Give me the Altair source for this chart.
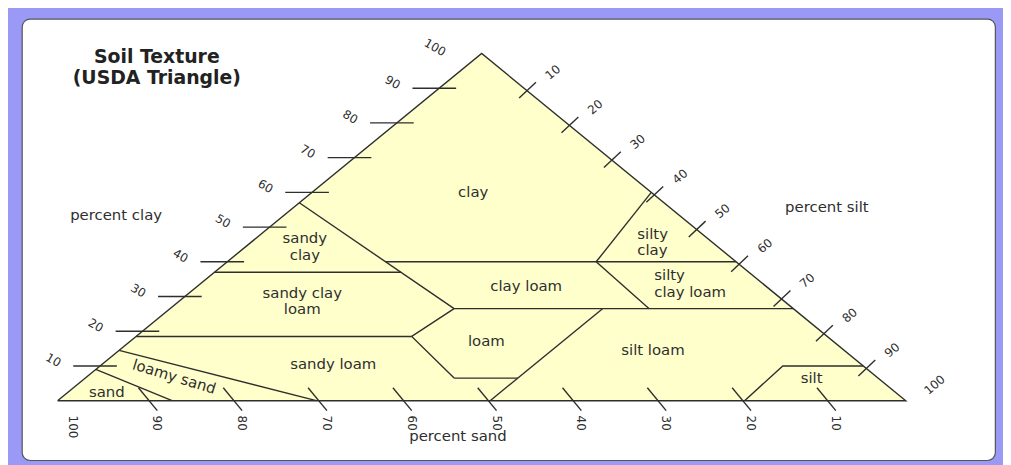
import altair as alt
import pandas as pd

# ---------------- values (percent) ----------------
# triangle outline, as clay % / silt % of each corner
outline_clay = [0, 0, 100, 0]
outline_silt = [0, 100, 0, 0]

# texture-class boundary polylines: clay % and silt % of each vertex
boundary_names = ["sandy clay edge", "sandy clay base", "clay loam top", "silty clay edge",
                  "silty clay loam edge", "clay loam base", "loam edge", "sandy clay loam base",
                  "loam base", "silt loam edge", "silt edge", "loamy sand edge", "sand edge"]
boundary_clay = [[57, 26.5], [37, 37], [40, 40], [60, 40], [40, 26.5], [26.5, 26.5],
                 [26.5, 18.5, 6.5], [18.5, 18.5], [6.5, 6.5], [26.5, 0], [0, 10, 10],
                 [14.5, 0], [9, 0]]
boundary_silt = [[0, 33.5], [0, 22], [18.7, 60], [40, 43.5], [43.5, 56.5], [33.5, 73.5],
                 [33.5, 32.5, 43.5], [0, 32.5], [43.5, 51], [51, 51], [81, 80.5, 90],
                 [0, 30.5], [0, 13.5]]

# class names and the composition where each name sits
one_line_labels = ["clay", "clay loam", "loam", "silt loam", "sandy loam", "sand", "silt"]
one_line_clay = [60, 33.1, 17.1, 14.6, 10.6, 2.6, 6.6]
one_line_silt = [19, 38.7, 42, 62.9, 27.2, 4.5, 85.6]

two_line_labels = ["sandy\nclay", "sandy clay\nloam"]
two_line_clay = [44.3, 28.7]
two_line_silt = [7, 14.5]

silty_labels = ["silty\nclay", "silty\nclay loam"]
silty_clay = [45.7, 33.7]
silty_silt = [45.5, 53.5]

slanted_labels = ["loamy sand"]
slanted_clay = [6.9]
slanted_silt = [10.3]

tick_values = [10, 20, 30, 40, 50, 60, 70, 80, 90]
label_values = [10, 20, 30, 40, 50, 60, 70, 80, 90, 100]

axis_titles = ["percent clay", "percent silt", "percent sand"]
axis_title_x = [6.9, 90.7, 47.2]
axis_title_y = [53.4, 55.7, -10.3]

chart_title = ["Soil Texture\n(USDA Triangle)"]
chart_title_x = [11.7]
chart_title_y = [96.1]

# ---------------- ternary -> plane ----------------
def tx(clay, silt):
    return silt + clay / 2.0


def label_frame(texts, clay, silt):
    return pd.DataFrame({"x": [tx(c, s) for c, s in zip(clay, silt)], "y": clay, "t": texts})


outline_df = pd.DataFrame({
    "x": [tx(c, s) for c, s in zip(outline_clay, outline_silt)],
    "y": outline_clay,
    "i": list(range(len(outline_clay))),
})
fill_df = outline_df.iloc[:3].copy()
fill_df["base"] = 0

rows = []
for name, cl, sl in zip(boundary_names, boundary_clay, boundary_silt):
    for i, (c, s) in enumerate(zip(cl, sl)):
        rows.append({"name": name, "i": i, "x": tx(c, s), "y": c})
bound_df = pd.DataFrame(rows)

clay_ticks = pd.DataFrame({"x": [v / 2.0 for v in tick_values], "y": tick_values})
silt_ticks = pd.DataFrame({"x": [50 + v / 2.0 for v in tick_values], "y": [100 - v for v in tick_values]})
sand_ticks = pd.DataFrame({"x": [100 - v for v in tick_values], "y": [0] * len(tick_values)})

clay_lab = pd.DataFrame({"x": [v / 2.0 for v in label_values], "y": label_values,
                         "t": [str(v) for v in label_values]})
silt_lab = pd.DataFrame({"x": [50 + v / 2.0 for v in label_values], "y": [100 - v for v in label_values],
                         "t": [str(v) for v in label_values]})
sand_lab = pd.DataFrame({"x": [100 - v for v in label_values], "y": [0] * len(label_values),
                         "t": [str(v) for v in label_values]})

one_df = label_frame(one_line_labels, one_line_clay, one_line_silt)
two_df = label_frame(two_line_labels, two_line_clay, two_line_silt)
silty_df = label_frame(silty_labels, silty_clay, silty_silt)
slant_df = label_frame(slanted_labels, slanted_clay, slanted_silt)
axt_df = pd.DataFrame({"x": axis_title_x, "y": axis_title_y, "t": axis_titles})
title_df = pd.DataFrame({"x": chart_title_x, "y": chart_title_y, "t": chart_title})

# ---------------- encodings ----------------
XS = alt.Scale(domain=[-4.21, 110.53], nice=False, zero=False)
YS = alt.Scale(domain=[-17.14, 110.0], nice=False, zero=False)
X = alt.X("x:Q", scale=XS, axis=None)
Y = alt.Y("y:Q", scale=YS, axis=None)

INK = "#2e2e2e"
FONT = "DejaVu Sans"
LW = 1.4
FS = 15
LH = 17

fill = alt.Chart(fill_df).mark_area(color="#FFFFCC", opacity=1).encode(x=X, y=Y, y2="base:Q")
outline = alt.Chart(outline_df).mark_line(color=INK, strokeWidth=LW).encode(x=X, y=Y, order="i:Q")
bounds = alt.Chart(bound_df).mark_line(color=INK, strokeWidth=LW).encode(
    x=X, y=Y, detail="name:N", order="i:Q")

t_clay = alt.Chart(clay_ticks).mark_rule(color=INK, strokeWidth=LW, xOffset=-27, x2Offset=17).encode(
    x=X, x2="x:Q", y=Y)
t_silt = alt.Chart(silt_ticks).mark_rule(color=INK, strokeWidth=LW, xOffset=-5, yOffset=10,
                                         x2Offset=12, y2Offset=-6).encode(x=X, x2="x:Q", y=Y, y2="y:Q")
t_sand = alt.Chart(sand_ticks).mark_rule(color=INK, strokeWidth=LW, xOffset=-4, yOffset=-13,
                                         x2Offset=15, y2Offset=10).encode(x=X, x2="x:Q", y=Y, y2="y:Q")

l_clay = alt.Chart(clay_lab).mark_text(font=FONT, fontSize=12, color=INK, angle=30,
                                       xOffset=-47, yOffset=-6).encode(x=X, y=Y, text="t:N")
l_silt = alt.Chart(silt_lab).mark_text(font=FONT, fontSize=12, color=INK, angle=320,
                                       xOffset=29, yOffset=-16).encode(x=X, y=Y, text="t:N")
l_sand = alt.Chart(sand_lab).mark_text(font=FONT, fontSize=12, color=INK, angle=90, align="left",
                                       baseline="middle", xOffset=15, yOffset=15).encode(x=X, y=Y, text="t:N")

one = alt.Chart(one_df).mark_text(font=FONT, fontSize=FS, color=INK).encode(x=X, y=Y, text="t:N")
two = alt.Chart(two_df).mark_text(font=FONT, fontSize=FS, color=INK, lineBreak="\n",
                                  lineHeight=LH, yOffset=-LH / 2).encode(x=X, y=Y, text="t:N")
silty = alt.Chart(silty_df).mark_text(font=FONT, fontSize=FS, color=INK, lineBreak="\n",
                                      lineHeight=LH, yOffset=-LH / 2, align="left").encode(
    x=X, y=Y, text="t:N")
slant = alt.Chart(slant_df).mark_text(font=FONT, fontSize=FS, color=INK, angle=17).encode(
    x=X, y=Y, text="t:N")
axt = alt.Chart(axt_df).mark_text(font=FONT, fontSize=FS, color=INK).encode(x=X, y=Y, text="t:N")
title = alt.Chart(title_df).mark_text(font=FONT, fontSize=19, fontWeight="bold", color="#222222",
                                      lineBreak="\n", lineHeight=21, yOffset=-10).encode(
    x=X, y=Y, text="t:N")

chart = alt.layer(fill, bounds, outline, t_clay, t_silt, t_sand, l_clay, l_silt, l_sand,
                  one, two, silty, slant, axt, title).properties(
    width=981, height=445,
    padding={"left": 14, "top": 9, "right": 8, "bottom": 3},
    background="#9a9af6",
    autosize=alt.AutoSizeParams(type="none"),
).configure_view(fill="white", stroke="#555555", strokeWidth=1.2, cornerRadius=8)

chart.save("out.html", embed_options={"renderer": "svg", "actions": False})
